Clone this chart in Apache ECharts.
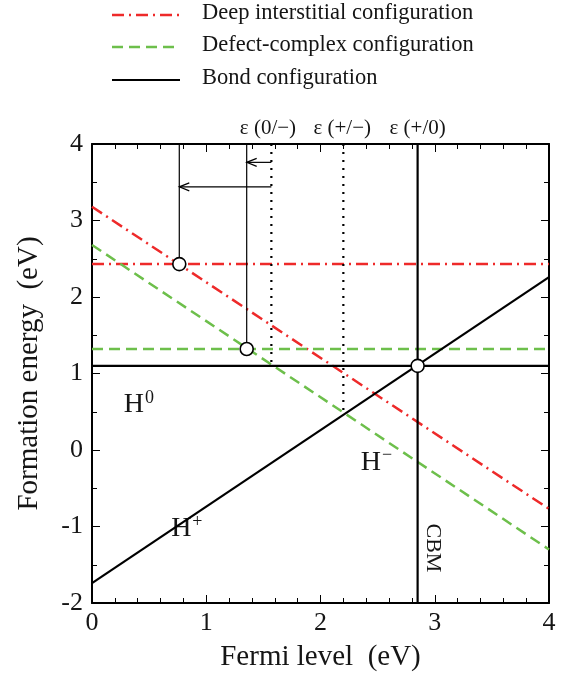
<!DOCTYPE html>
<html><head><meta charset="utf-8">
<script src="https://cdn.jsdelivr.net/npm/echarts@6/dist/echarts.min.js"></script>
<style>html,body{margin:0;padding:0;background:#fff}#c{width:565px;height:679px}</style>
</head><body><div id="c"></div>
<script>
// ---- data ----
const xTicks = [0, 1, 2, 3, 4];
const yTicks = [-2, -1, 0, 1, 2, 3, 4];
const deepFlat = [[0, 2.43], [4, 2.43]];
const deepSlope = [[0, 3.18], [4, -0.77]];
const complexFlat = [[0, 1.32], [4, 1.32]];
const complexSlope = [[0, 2.68], [4, -1.3]];
const bondFlat = [[0, 1.1], [4, 1.1]];
const bondSlope = [[0, -1.74], [4, 2.26]];
const cbmLine = [[2.85, -2], [2.85, 4]];
const dotted1 = [[1.57, 4], [1.57, 1.1]];
const dotted2 = [[2.2, 4], [2.2, 0.48]];
const guide1 = [[0.764, 4], [0.764, 2.43]];
const guide2 = [[1.354, 4], [1.354, 1.32]];
const arrows = [[1.57, 1.354, 3.76], [1.57, 0.764, 3.44]];
const circles = [[0.764, 2.43], [1.354, 1.32], [2.85, 1.1]];
const levelLabels = ['ε (0/−)', 'ε (+/−)', 'ε (+/0)'];
const levelX = [1.54, 2.19, 2.85];
const stateLabels = [['H', '0', 0.41, 0.6], ['H', '−', 2.49, -0.15], ['H', '+', 0.83, -1.02]];
const legendNames = ['Deep interstitial configuration', 'Defect-complex configuration', 'Bond configuration'];

const RED = '#ee2a2a', GREEN = '#6dbf4b', BLACK = '#000', TXT = '#151515';
const FONT = '"Liberation Serif", "Times New Roman", serif';

const chart = echarts.init(document.getElementById('c'), null, {renderer: 'canvas'});

function lineSeries(data, color, width, type) {
  return {type: 'line', data, symbol: 'none', silent: true, animation: false,
    lineStyle: {color, width, type}, z: 3};
}
function frameAxis(extra) {
  return Object.assign({
    axisLine: {onZero: false, lineStyle: {color: BLACK, width: 2}},
    axisTick: {inside: true, length: 8, lineStyle: {color: BLACK, width: 1}},
    splitLine: {show: false}
  }, extra);
}

const option = {
  animation: false,
  backgroundColor: '#fff',
  grid: {left: 92, right: 16, top: 144, bottom: 76},
  xAxis: [frameAxis({
    type: 'value', min: 0, max: 4, interval: 1,
    minorTick: {show: true, splitNumber: 5, length: 5, lineStyle: {color: BLACK}},
    axisLabel: {color: TXT, fontFamily: FONT, fontSize: 26, margin: 7},
    name: 'Fermi level  (eV)', nameLocation: 'middle', nameGap: 40,
    nameTextStyle: {color: TXT, fontFamily: FONT, fontSize: 29}
  }), frameAxis({
    type: 'value', min: 0, max: 4, interval: 1, position: 'top',
    minorTick: {show: true, splitNumber: 5, length: 5, lineStyle: {color: BLACK}},
    axisLabel: {show: false}
  })],
  yAxis: [frameAxis({
    type: 'value', min: -2, max: 4, interval: 1,
    minorTick: {show: true, splitNumber: 2, length: 5, lineStyle: {color: BLACK}},
    axisLabel: {color: TXT, fontFamily: FONT, fontSize: 26, margin: 9},
    name: 'Formation energy  (eV)', nameLocation: 'middle', nameGap: 48,
    nameTextStyle: {color: TXT, fontFamily: FONT, fontSize: 29}
  }), frameAxis({
    type: 'value', min: -2, max: 4, interval: 1, position: 'right',
    minorTick: {show: true, splitNumber: 2, length: 5, lineStyle: {color: BLACK}},
    axisLabel: {show: false}
  })],
  series: [
    lineSeries(deepFlat, RED, 2.5, [12, 5, 2, 5]),
    lineSeries(deepSlope, RED, 2.5, [12, 5, 2, 5]),
    lineSeries(complexFlat, GREEN, 2.5, [11, 6]),
    lineSeries(complexSlope, GREEN, 2.5, [11, 6]),
    lineSeries(bondFlat, BLACK, 2.2, 'solid'),
    lineSeries(bondSlope, BLACK, 2.2, 'solid'),
    lineSeries(cbmLine, BLACK, 2.2, 'solid'),
    lineSeries(dotted1, BLACK, 2.2, [2, 6]),
    lineSeries(dotted2, BLACK, 2.2, [2, 6]),
    lineSeries(guide1, BLACK, 1.2, 'solid'),
    lineSeries(guide2, BLACK, 1.2, 'solid'),
    {
      type: 'custom', data: arrows, encode: {x: [0, 1], y: 2}, silent: true, z: 4,
      renderItem(params, api) {
        const p1 = api.coord([api.value(0), api.value(2)]);
        const p2 = api.coord([api.value(1), api.value(2)]);
        return {type: 'group', children: [
          {type: 'line', shape: {x1: p1[0], y1: p1[1], x2: p2[0], y2: p2[1]}, style: {stroke: BLACK, lineWidth: 1.2}},
          {type: 'polyline', shape: {points: [[p2[0] + 10, p2[1] - 4], [p2[0], p2[1]], [p2[0] + 10, p2[1] + 4]]},
            style: {stroke: BLACK, lineWidth: 1.2, fill: null}}
        ]};
      }
    },
    {
      type: 'scatter', data: circles, symbol: 'circle', symbolSize: 13, z: 6, silent: true,
      itemStyle: {color: '#fff', opacity: 1, borderColor: BLACK, borderWidth: 1.6}
    },
    {
      type: 'scatter', data: levelX.map((x, i) => ({value: [x, 4], name: levelLabels[i]})),
      symbolSize: 0, silent: true, clip: false, itemStyle: {opacity: 1},
      label: {show: true, position: 'top', distance: 5, formatter: p => p.name,
        color: TXT, fontFamily: FONT, fontSize: 21}
    },
    {
      type: 'scatter', data: stateLabels.map(s => ({value: [s[2], s[3]], base: s[0], sup: s[1]})),
      symbolSize: 0, silent: true, itemStyle: {opacity: 1},
      label: {show: true, position: 'inside',
        formatter: p => '{a|' + p.data.base + '}{b|' + p.data.sup + '}',
        rich: {
          a: {fontFamily: FONT, fontSize: 28, color: TXT, lineHeight: 30, verticalAlign: 'bottom'},
          b: {fontFamily: FONT, fontSize: 18, color: TXT, lineHeight: 16, verticalAlign: 'top', padding: [0, 0, 18, 1]}
        }}
    },
    {
      type: 'scatter', data: [{value: [2.98, -1.28], name: 'CBM'}], symbolSize: 0, silent: true,
      itemStyle: {opacity: 1},
      label: {show: true, position: 'inside', rotate: -90, formatter: p => p.name,
        color: TXT, fontFamily: FONT, fontSize: 22}
    }
  ],
  graphic: [
    {type: 'line', shape: {x1: 112, y1: 15, x2: 180, y2: 15}, style: {stroke: RED, lineWidth: 2.5, lineDash: [12, 5, 2, 5]}},
    {type: 'line', shape: {x1: 112, y1: 47, x2: 180, y2: 47}, style: {stroke: GREEN, lineWidth: 2.5, lineDash: [11, 6]}},
    {type: 'line', shape: {x1: 112, y1: 80, x2: 180, y2: 80}, style: {stroke: BLACK, lineWidth: 2.2}},
    ...legendNames.map((n, i) => ({type: 'text', left: 202, top: [15, 47, 80][i] - 13,
      style: {text: n, fontFamily: FONT, fontSize: 22.5, fill: TXT}}))
  ]
};
chart.setOption(option);
</script></body></html>
